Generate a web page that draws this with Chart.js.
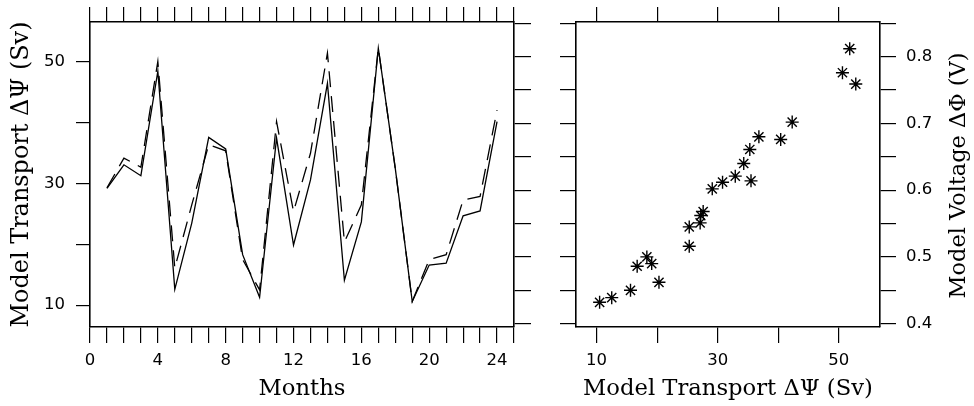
<!DOCTYPE html>
<html><head><meta charset="utf-8">
<script src="https://cdn.jsdelivr.net/npm/chart.js@4"></script>
<style>
html,body{margin:0;padding:0;background:#fff;}
#wrap{position:relative;width:974px;height:406px;overflow:hidden;}
canvas{position:absolute;top:0;}
#c1{left:0;}
#c2{left:550px;}
</style></head><body>
<div id="wrap"><canvas id="c1" width="550" height="406"></canvas><canvas id="c2" width="424" height="406"></canvas></div>
<script>
// ---- data ----
const months = [1,2,3,4,5,6,7,8,9,10,11,12,13,14,15,16,17,18,19,20,21,22,23,24];
const transportSolid  = [29.2,33.1,31.3,48.5,12.6,23.5,37.6,35.7,18.3,11.3,37.5,19.9,30.6,46.5,14.1,23.7,52.3,32.5,10.6,16.6,16.9,24.7,25.5,40.2];
const transportDashed = [29.3,34.2,32.7,50.1,16.1,26.5,36.4,35.4,17.5,12.5,40.2,25.4,35.0,51.5,20.4,26.5,52.3,32.5,10.6,17.5,18.3,27.3,27.9,42.1];
const scatterTransport = [10.5,12.5,15.6,16.7,18.3,19.1,20.3,25.3,25.3,27.1,27.2,27.6,29.1,30.8,32.9,34.3,35.3,36.8,35.5,40.4,42.3,50.6,51.8,52.8];
const scatterVoltage   = [0.432,0.439,0.450,0.486,0.500,0.490,0.462,0.516,0.545,0.551,0.562,0.568,0.602,0.612,0.621,0.640,0.661,0.680,0.614,0.676,0.702,0.776,0.812,0.759];
const monthTickLabels = [0,4,8,12,16,20,24];
const transportTickLabels = [10,30,50];
const voltageTickLabels = [0.4,0.5,0.6,0.7,0.8];
const monthsTitle = 'Months';
const transportTitle = 'Model Transport ΔΨ (Sv)';
const voltageTitle = 'Model Voltage ΔΦ (V)';

// ---- styling ----
const black = '#000';
const TITLE_FAMILY = '"DejaVu Serif", serif';
const TICK_FAMILY = '"DejaVu Sans", sans-serif';
function fitSize(text, target){
  const c = document.createElement('canvas').getContext('2d');
  c.font = '100px ' + TITLE_FAMILY;
  return 100 * target / c.measureText(text).width;
}
const hTitleSize = fitSize(transportTitle, 290);
const vTitleSize = fitSize(transportTitle, 306);
const rTitleSize = fitSize(voltageTitle, 246);
const tickFont = {family: TICK_FAMILY, size: 16.5};
function grid(len){ return {drawOnChartArea:false, drawTicks:true, tickLength:len, color:black, lineWidth:1.2}; }
const border = {display:true, color:black, width:1.6};
function near(list, v){ return list.some(t => Math.abs(t - v) < 1e-6); }

// ---- left chart ----
new Chart(document.getElementById('c1'), {
  type: 'line',
  data: {
    datasets: [
      {data: months.map((m,i)=>({x:m, y:transportSolid[i]})), xAxisID:'x', yAxisID:'y',
       borderColor:black, borderWidth:1.3, pointRadius:0, tension:0, fill:false},
      {data: months.map((m,i)=>({x:m, y:transportDashed[i]})), xAxisID:'x', yAxisID:'y',
       borderColor:black, borderWidth:1.3, borderDash:[16,9], pointRadius:0, tension:0, fill:false}
    ]
  },
  options: {
    responsive:false, animation:false, devicePixelRatio:1,
    layout:{padding:0},
    plugins:{legend:{display:false}, tooltip:{enabled:false}},
    scales:{
      x:{type:'linear', position:'bottom', min:0, max:25,
         afterFit:s=>{s.height=79;},
         ticks:{stepSize:1, autoSkip:false, maxRotation:0, includeBounds:false, padding:8, color:black, font:tickFont,
                callback:v=> near(monthTickLabels, v) ? String(v) : ''},
         grid:grid(16), border:border,
         title:{display:true, text:monthsTitle, color:black, font:{family:TITLE_FAMILY, size:hTitleSize}, padding:{top:0,bottom:3}}},
      xTop:{type:'linear', position:'top', min:0, max:25,
         afterFit:s=>{s.height=22;},
         ticks:{display:false, stepSize:1, autoSkip:false, includeBounds:false},
         grid:grid(15), border:border},
      y:{type:'linear', position:'left', min:6.4, max:56.6,
         afterFit:s=>{s.width=90;},
         ticks:{stepSize:10, includeBounds:false, padding:11, color:black, font:tickFont,
                callback:v=> near(transportTickLabels, v) ? String(v) : ''},
         grid:grid(14), border:border,
         title:{display:true, text:transportTitle, color:black, font:{family:TITLE_FAMILY, size:vTitleSize}, padding:{top:7,bottom:0}}},
      yR:{type:'linear', position:'right', min:0.395, max:0.852,
         afterFit:s=>{s.width=36;},
         ticks:{display:false, stepSize:0.05, includeBounds:false},
         grid:grid(17), border:border}
    }
  }
});

// ---- right chart ----
const rotatedTitle = {
  id:'rotatedTitle',
  afterDraw(chart, args, opts){
    const s = chart.scales.y, ctx = chart.ctx, a = chart.chartArea;
    ctx.save();
    ctx.font = opts.size + 'px ' + TITLE_FAMILY;
    ctx.fillStyle = black;
    ctx.textAlign = 'center';
    ctx.textBaseline = 'middle';
    ctx.translate(s.right - opts.offset, (a.top + a.bottom)/2 + 1);
    ctx.rotate(-Math.PI/2);
    ctx.fillText(opts.text, 0, 0);
    ctx.restore();
  }
};
new Chart(document.getElementById('c2'), {
  type: 'scatter',
  data: {
    datasets: [
      {data: scatterTransport.map((t,i)=>({x:t, y:scatterVoltage[i]})), xAxisID:'x', yAxisID:'y',
       pointStyle:'star', pointRadius:6.5, borderWidth:1.4, borderColor:black, backgroundColor:black}
    ]
  },
  plugins:[rotatedTitle],
  options: {
    responsive:false, animation:false, devicePixelRatio:1,
    layout:{padding:0},
    plugins:{legend:{display:false}, tooltip:{enabled:false},
             rotatedTitle:{text:voltageTitle, size:rTitleSize, offset:15}},
    scales:{
      x:{type:'linear', position:'bottom', min:6.6, max:56.8,
         afterFit:s=>{s.height=79;},
         ticks:{stepSize:10, autoSkip:false, maxRotation:0, includeBounds:false, padding:8, color:black, font:tickFont,
                callback:v=> near(transportTickLabels, v) ? String(v) : ''},
         grid:grid(16), border:border,
         title:{display:true, text:transportTitle, color:black, font:{family:TITLE_FAMILY, size:hTitleSize}, padding:{top:0,bottom:3}}},
      xTop:{type:'linear', position:'top', min:6.6, max:56.8,
         afterFit:s=>{s.height=22;},
         ticks:{display:false, stepSize:10, autoSkip:false, includeBounds:false},
         grid:grid(15), border:border},
      y:{type:'linear', position:'right', min:0.395, max:0.852,
         afterFit:s=>{s.width=94;},
         ticks:{stepSize:0.05, includeBounds:false, padding:10, color:black, font:tickFont,
                callback:v=> near(voltageTickLabels, v) ? v.toFixed(1) : ''},
         grid:grid(16), border:border},
      yL:{type:'linear', position:'left', min:0.395, max:0.852,
         afterFit:s=>{s.width=26;},
         ticks:{display:false, stepSize:0.05, includeBounds:false},
         grid:grid(16), border:border}
    }
  }
});
</script>
</body></html>
